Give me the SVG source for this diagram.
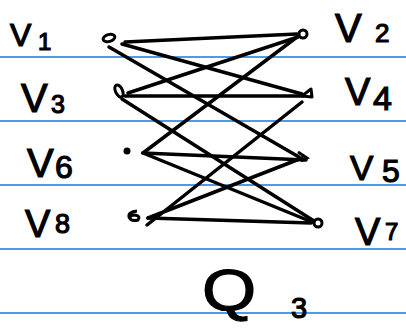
<svg xmlns="http://www.w3.org/2000/svg" width="406" height="329" viewBox="0 0 406 329">
<style>
.rule{stroke:#4a9bea;stroke-width:2}
.e{stroke:#000;stroke-width:3.5;stroke-linecap:round;fill:none}
.n{stroke:#000;stroke-width:3;fill:none}
.lbl{font-family:"Liberation Sans",Arial,sans-serif;fill:#000;stroke:#000;stroke-width:1.2}
</style>
<rect width="406" height="329" fill="#fff"/>
<g id="paper">
<line class="rule" x1="0" y1="57" x2="406" y2="57"/>
<line class="rule" x1="0" y1="121" x2="406" y2="121"/>
<line class="rule" x1="0" y1="185" x2="406" y2="185"/>
<line class="rule" x1="0" y1="249" x2="406" y2="249"/>
<line class="rule" x1="0" y1="313" x2="406" y2="313"/>
</g>
<g id="connectors">
<line class="e" x1="125" y1="42" x2="297" y2="34"/>
<line class="e" x1="122" y1="44" x2="302" y2="94"/>
<line class="e" x1="109" y1="47" x2="299" y2="157"/>
<line class="e" x1="128" y1="93" x2="298" y2="37"/>
<line class="e" x1="125" y1="96" x2="303" y2="96"/>
<line class="e" x1="122" y1="99" x2="314" y2="221"/>
<line class="e" x1="143" y1="153" x2="297" y2="37"/>
<line class="e" x1="143" y1="153" x2="306" y2="160"/>
<line class="e" x1="143" y1="153" x2="312" y2="222"/>
<line class="e" x1="148" y1="218" x2="311" y2="223"/>
<line class="e" x1="148" y1="218" x2="302" y2="158"/>
<line class="e" x1="147" y1="225" x2="302" y2="102"/>
</g>
<g id="v1">
<ellipse class="n" cx="109" cy="38" rx="6" ry="3.5" transform="rotate(-15 109 38)"/>
<text class="lbl" x="10" y="46" font-size="32">V</text>
<text class="lbl" x="38" y="50" font-size="24">1</text>
</g>
<g id="v3">
<ellipse class="n" cx="119" cy="91" rx="3.5" ry="6.5" transform="rotate(-25 119 91)"/>
<text class="lbl" x="21" y="112" font-size="40">V</text>
<text class="lbl" x="51" y="113" font-size="25">3</text>
</g>
<g id="v6">
<circle cx="127" cy="151" r="3.5" fill="#000"/>
<text class="lbl" x="27" y="177" font-size="40">V</text>
<text class="lbl" x="55" y="178" font-size="32">6</text>
</g>
<g id="v8">
<path class="n" d="M137 211 Q128 212 129 217 Q131 222 138 220 Q141 216 135 215 Q131 215 130 217"/>
<text class="lbl" x="25" y="237" font-size="38">V</text>
<text class="lbl" x="55" y="233" font-size="27">8</text>
</g>
<g id="v2">
<circle class="n" cx="303" cy="34" r="4"/>
<text class="lbl" x="335" y="42" font-size="40">V</text>
<text class="lbl" x="375" y="42" font-size="26">2</text>
</g>
<g id="v4">
<path class="n" d="M302 96 L311 89 L312 97 Z" stroke-linejoin="round"/>
<text class="lbl" x="345" y="105" font-size="38">V</text>
<text class="lbl" x="373" y="110" font-size="34">4</text>
</g>
<g id="v5">
<path class="n" d="M298 152 L307 158 L301 161"/>
<text class="lbl" x="350" y="180" font-size="35">V</text>
<text class="lbl" x="382" y="182" font-size="32">5</text>
</g>
<g id="v7">
<circle class="n" cx="318" cy="223" r="4"/>
<text class="lbl" x="355" y="245" font-size="38">V</text>
<text class="lbl" x="385" y="240" font-size="24">7</text>
</g>
<g id="q3">
<text class="lbl" font-size="58" transform="translate(202 310) scale(1.2 1)">Q</text>
<text class="lbl" x="291" y="318" font-size="29">3</text>
</g>
</svg>
